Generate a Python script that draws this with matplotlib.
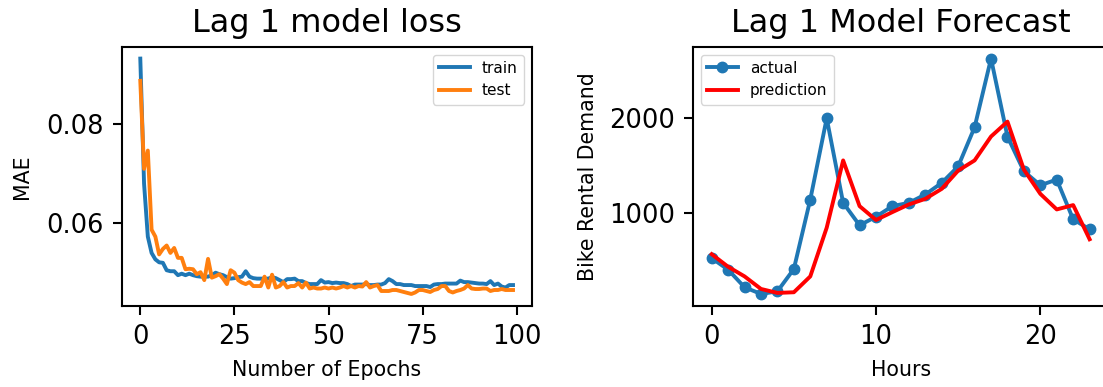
import numpy as np
import matplotlib
matplotlib.use('Agg')
import matplotlib.pyplot as plt

# training history (MAE per epoch)
train_mae = [
    0.0933, 0.0680, 0.0573, 0.0540, 0.0527, 0.0521, 0.0520, 0.0505, 0.0503, 0.0503,
    0.0495, 0.0498, 0.0495, 0.0498, 0.0495, 0.0493, 0.0492, 0.0492, 0.0492, 0.0495,
    0.0500, 0.0497, 0.0495, 0.0491, 0.0488, 0.0489, 0.0491, 0.0492, 0.0503, 0.0492,
    0.0489, 0.0488, 0.0488, 0.0488, 0.0488, 0.0491, 0.0489, 0.0485, 0.0481, 0.0487,
    0.0487, 0.0488, 0.0483, 0.0483, 0.0479, 0.0477, 0.0477, 0.0477, 0.0485, 0.0480,
    0.0481, 0.0479, 0.0480, 0.0479, 0.0479, 0.0477, 0.0473, 0.0476, 0.0476, 0.0476,
    0.0477, 0.0475, 0.0475, 0.0476, 0.0476, 0.0479, 0.0487, 0.0483, 0.0477, 0.0477,
    0.0475, 0.0475, 0.0475, 0.0473, 0.0473, 0.0473, 0.0473, 0.0471, 0.0476, 0.0477,
    0.0477, 0.0478, 0.0478, 0.0478, 0.0478, 0.0484, 0.0481, 0.0481, 0.0480, 0.0479,
    0.0478, 0.0478, 0.0477, 0.0483, 0.0475, 0.0478, 0.0472, 0.0470, 0.0475, 0.0475,
]
test_mae = [
    0.0888, 0.0710, 0.0747, 0.0587, 0.0573, 0.0537, 0.0548, 0.0555, 0.0540, 0.0550,
    0.0530, 0.0530, 0.0507, 0.0508, 0.0507, 0.0497, 0.0501, 0.0485, 0.0528, 0.0490,
    0.0493, 0.0497, 0.0488, 0.0477, 0.0505, 0.0500, 0.0485, 0.0480, 0.0477, 0.0481,
    0.0473, 0.0473, 0.0473, 0.0492, 0.0470, 0.0496, 0.0470, 0.0473, 0.0481, 0.0470,
    0.0473, 0.0473, 0.0479, 0.0470, 0.0480, 0.0468, 0.0470, 0.0468, 0.0468, 0.0470,
    0.0468, 0.0470, 0.0468, 0.0470, 0.0473, 0.0470, 0.0473, 0.0470, 0.0473, 0.0472,
    0.0481, 0.0470, 0.0473, 0.0475, 0.0463, 0.0463, 0.0463, 0.0465, 0.0465, 0.0463,
    0.0461, 0.0459, 0.0457, 0.0460, 0.0465, 0.0465, 0.0463, 0.0461, 0.0465, 0.0467,
    0.0473, 0.0473, 0.0463, 0.0460, 0.0463, 0.0465, 0.0468, 0.0475, 0.0468, 0.0467,
    0.0467, 0.0468, 0.0468, 0.0463, 0.0465, 0.0465, 0.0467, 0.0465, 0.0465, 0.0465,
]

# hourly demand for one day
actual = [519, 397, 211, 140, 168, 404, 1140, 2000, 1105, 867, 958, 1070,
          1105, 1193, 1316, 1491, 1905, 2632, 1807, 1439, 1291, 1351, 930, 825]
prediction = [561, 428, 326, 193, 151, 158, 326, 842, 1554, 1070, 923, 1007,
              1088, 1147, 1253, 1446, 1554, 1807, 1965, 1456, 1200, 1035, 1081, 719]

plt.rcParams['lines.linewidth'] = 2.8
plt.rcParams['axes.linewidth'] = 1.5
plt.rcParams['xtick.major.width'] = 1.5
plt.rcParams['ytick.major.width'] = 1.5
plt.rcParams['xtick.major.size'] = 6.5
plt.rcParams['ytick.major.size'] = 6.5
plt.rcParams['xtick.major.pad'] = 6.5
plt.rcParams['ytick.major.pad'] = 6.5
plt.rcParams['xtick.labelsize'] = 18.5
plt.rcParams['ytick.labelsize'] = 18.5
plt.rcParams['axes.titlesize'] = 23
plt.rcParams['axes.titlepad'] = 11
plt.rcParams['axes.labelsize'] = 14.8
plt.rcParams['axes.labelpad'] = 7.4
plt.rcParams['legend.fontsize'] = 11.1

fig = plt.figure(figsize=(11.03, 3.87), dpi=100)

# loss curves
ax1 = fig.add_axes([0.1103, 0.210, 0.3717, 0.669])
epochs = np.arange(len(train_mae))
ax1.plot(epochs, train_mae, label='train')
ax1.plot(epochs, test_mae, label='test')
ax1.set_title('Lag 1 model loss')
ax1.set_xlabel('Number of Epochs')
ax1.set_ylabel('MAE', labelpad=10)
ax1.set_yticks([0.06, 0.08])
ax1.legend(loc='upper right')

# forecast vs actual
ax2 = fig.add_axes([0.6281, 0.210, 0.3769, 0.669])
hours = np.arange(len(actual))
ax2.plot(hours, actual, marker='o', markersize=7.5, label='actual')
ax2.plot(hours, prediction, color='red', label='prediction')
ax2.set_title('Lag 1 Model Forecast')
ax2.set_xlabel('Hours')
ax2.set_ylabel('Bike Rental Demand')
ax2.set_yticks([1000, 2000])
ax2.legend(loc='upper left')

fig.savefig('out.png', dpi=100)
